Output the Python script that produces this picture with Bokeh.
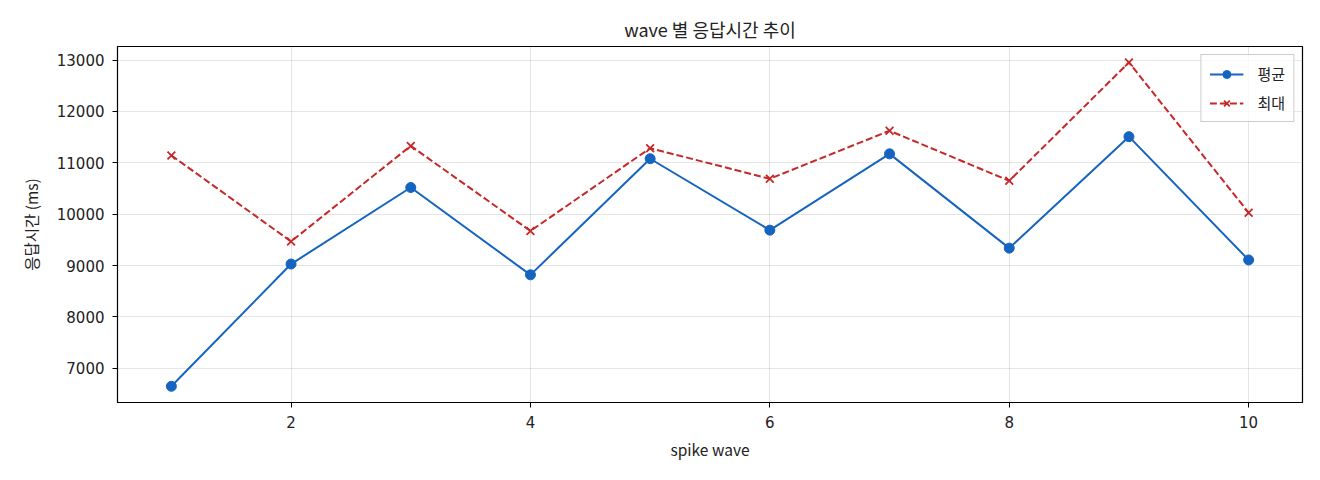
from bokeh.plotting import figure
from bokeh.models import ColumnDataSource, Range1d, SingleIntervalTicker, Legend, LegendItem
from bokeh.embed import file_html
from bokeh.resources import INLINE

# spike wave 번호와 응답시간 (ms)
waves = [1, 2, 3, 4, 5, 6, 7, 8, 9, 10]
avg_ms = [6650, 9030, 10520, 8820, 11080, 9690, 11175, 9340, 11510, 9110]
max_ms = [11145, 9470, 11330, 9675, 11285, 10690, 11625, 10650, 12955, 10030]

FONT = "Noto Sans CJK KR"
NUM_FONT = "DejaVu Sans"
BLUE = "#1565c0"
RED = "#c62828"

src = ColumnDataSource(data=dict(wave=waves, avg=avg_ms, mx=max_ms))

p = figure(width=1316, height=472, output_backend="svg", toolbar_location=None,
           title="wave 별 응답시간 추이",
           x_range=Range1d(0.55, 10.45), y_range=Range1d(6335, 13265),
           min_border_left=117, min_border_right=14, min_border_top=46, min_border_bottom=70)

p.title.align = "center"
p.title.text_font = FONT
p.title.text_font_size = "18px"
p.title.text_font_style = "normal"
p.title.text_color = "#222222"
p.title.standoff = 10

p.outline_line_color = "black"
p.outline_line_width = 1.2
p.grid.grid_line_color = "#000000"
p.grid.grid_line_alpha = 0.1

p.xaxis.ticker = SingleIntervalTicker(interval=2)
p.yaxis.ticker = SingleIntervalTicker(interval=1000)
p.xaxis.axis_label = "spike wave"
p.yaxis.axis_label = "응답시간 (ms)"
for ax in (p.xaxis, p.yaxis):
    ax.axis_label_text_font = FONT
    ax.axis_label_text_font_size = "15.5px"
    ax.axis_label_text_font_style = "normal"
    ax.axis_label_text_color = "#222222"
    ax.major_label_text_font = NUM_FONT
    ax.major_label_text_font_size = "15px"
    ax.major_label_text_color = "#222222"
    ax.minor_tick_line_color = None
    ax.major_tick_in = 0
    ax.major_tick_out = 5
    ax.major_tick_line_color = "black"
    ax.axis_line_color = "black"
p.xaxis.major_label_standoff = 8
p.yaxis.major_label_standoff = 8
p.xaxis.axis_label_standoff = 7
p.yaxis.axis_label_standoff = 12

avg_line = p.line("wave", "avg", source=src, line_color=BLUE, line_width=2)
avg_dot = p.scatter("wave", "avg", source=src, marker="circle", size=10,
                    fill_color=BLUE, line_color=BLUE)
max_line = p.line("wave", "mx", source=src, line_color=RED, line_width=2, line_dash="7 3")
max_x = p.scatter("wave", "mx", source=src, marker="x", size=11,
                  line_color=RED, line_width=1.8)

legend = Legend(items=[
    LegendItem(label="평균", renderers=[avg_line, avg_dot]),
    LegendItem(label="최대", renderers=[max_line, max_x]),
], location="top_right")
legend.label_text_font = FONT
legend.label_text_font_size = "15px"
legend.label_text_color = "#222222"
legend.border_line_color = "#cccccc"
legend.border_line_alpha = 1
legend.background_fill_alpha = 0.8
legend.glyph_width = 34
legend.label_standoff = 14
legend.spacing = 8
legend.margin = 8
legend.padding = 8
p.add_layout(legend)

open("out.html", "w").write(file_html(p, INLINE))
